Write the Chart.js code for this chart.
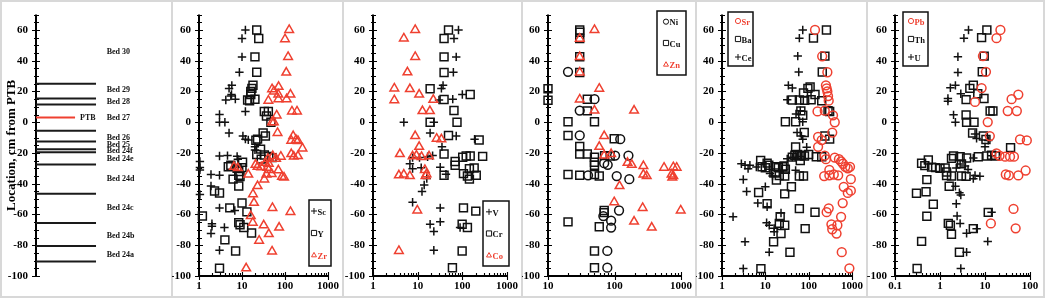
<!DOCTYPE html>
<html>
<head>
<meta charset="utf-8">
<script src="https://cdn.jsdelivr.net/npm/chart.js@4/dist/chart.umd.min.js"></script>
<style>
  body { margin: 0; background: #fff; }
  #wrap { position: relative; width: 1045px; height: 303px; overflow: hidden; }
  .frame { position: absolute; box-sizing: border-box; border: 2px solid #d8d8d8; }
  .sep { position: absolute; top: 0; width: 2px; height: 298px; background: #d8d8d8; }
  canvas { position: absolute; top: 0; }
</style>
</head>
<body>
<div id="wrap">
  <div class="frame" style="left:0;top:0;width:1045px;height:298px"></div>
  <div class="sep" style="left:171px"></div>
  <div class="sep" style="left:342px"></div>
  <div class="sep" style="left:521px"></div>
  <div class="sep" style="left:695px"></div>
  <div class="sep" style="left:866px"></div>
  <canvas id="c1" width="172" height="303" style="left:0"></canvas>
  <canvas id="c2" width="171" height="303" style="left:172px"></canvas>
  <canvas id="c3" width="179" height="303" style="left:343px"></canvas>
  <canvas id="c4" width="174" height="303" style="left:522px"></canvas>
  <canvas id="c5" width="171" height="303" style="left:696px"></canvas>
  <canvas id="c6" width="178" height="303" style="left:867px"></canvas>
</div>
<script>
// ---- stratigraphic column
const bedLines = [25, 15.5, 11.5, -5.5, -12.5, -17.5, -19.5, -27.5, -46.5, -65.5, -80.5, -90.5];
const ptbLine = 3;
const bedNames = ['Bed 30', 'Bed 29', 'Bed 28', 'Bed 27', 'Bed 26', 'Bed 25', 'Bed 24f', 'Bed 24e', 'Bed 24d', 'Bed 24c', 'Bed 24b', 'Bed 24a'];
const bedLabelY = [46, 20.8, 13, 3, -10, -14.5, -18.5, -24, -37, -56, -74, -86.5];

// ---- Sc, Y, Zr
const scX = [12, 10, 10, 8.7, 5.8, 5, 5.7, 4.2, 5.5, 7, 12, 3, 3, 4, 5, 10.5, 12, 14, 20, 20, 3, 4.6, 7.7, 8, 1.05, 1.05, 1.05, 1.9, 3, 1.9, 1.05, 3, 6.8, 2, 2, 3.9, 1.9, 3];
const scY = [60, 54.5, 42.5, 32.5, 24, 22, 18, 14.5, 17, 15, 7, 5, 0, 0, -7, -9, -11, -11.5, -16, -18, -22, -21.7, -22.2, -24, -25.5, -29.5, -31, -34, -34.5, -41.5, -47, -55.7, -57.4, -66, -67.6, -68.5, -72.3, -83.3];
const yX = [22, 24.5, 20, 22, 18, 17, 16, 16, 20, 13.5, 15, 33, 41, 37, 47, 31, 35, 21, 23, 27, 22, 33, 42, 50, 28, 5.5, 4.8, 7.7, 8.4, 6.2, 8.4, 9, 10.3, 10, 8.4, 3, 2.3, 10, 5.2, 13, 1.2, 8.4, 9, 11, 16.7, 4, 7.1, 3];
const yY = [60, 54.5, 42.5, 32.5, 24, 22, 20, 18, 15, 14.5, 14, 7, 7, 4, 0, -7, -9, -11.7, -11, -17.5, -21, -21.3, -22.2, -23, -24, -28, -29, -30, -32, -37, -34.5, -35.3, -26, -29.5, -41.5, -46, -44.7, -52.5, -55.7, -58.3, -61, -65.3, -66.7, -68.5, -72, -76.5, -83.7, -95];
const zrX = [125, 100, 118, 107, 71, 50, 55, 134, 109, 70, 70, 41, 145, 190, 64, 50, 55, 67, 155, 180, 140, 200, 255, 140, 160, 200, 80, 52, 62, 40, 42, 35, 20.6, 23, 8, 6.5, 28, 39, 42, 70, 49, 14, 37, 85, 95, 33, 23, 18, 19, 51, 134, 16, 17.8, 32, 73, 42, 25, 50, 12.5];
const zrY = [60, 54, 42.5, 32.3, 23, 21.5, 20, 18, 15, 18, 15, 14, 7, 7, 4.4, 0, 0, -7, -9, -11.5, -12, -12.2, -17, -20.7, -22.3, -22, -22.4, -22, -23.8, -23.8, -27, -26.4, -27.7, -29, -29.8, -29, -29.2, -29.6, -31, -31.3, -33.6, -34, -34, -35.5, -36, -37.2, -41.5, -46.8, -52.4, -55.7, -58.3, -61, -65.3, -67, -68.5, -72.7, -77, -84, -95];

// ---- V, Cr, Co
const vX = [82, 65, 73, 63, 37, 34, 100, 30, 61, 23, 4.9, 19, 73, 188, 35, 21.6, 16.7, 11, 7.7, 6.7, 7.7, 12, 32, 43, 16, 14, 12.5, 7.7, 32, 19, 32, 23, 89, 23];
const vY = [60, 54.5, 42.5, 32.5, 24, 22, 18, 14.5, 15, 0, 0, -7, -9, -11, -16, -21.7, -22.4, -23, -23, -27, -30.2, -29.6, -29.2, -33.8, -36.6, -40.8, -45, -52, -55.7, -66.3, -64.8, -71, -68.5, -83.3];
const crX = [49, 39, 39, 39, 19, 150, 39, 65, 19, 76, 49, 238, 39, 102, 122, 150, 285, 69, 69, 144, 184, 106, 130, 205, 144, 39, 106, 200, 99, 130, 99, 60];
const crY = [60, 54.5, 42.5, 32.4, 21.8, 18, 14.8, 7.6, 0, 0, -8.6, -11.5, -20.7, -22.8, -22, -22, -22.2, -25.5, -28, -30.2, -29.8, -33.4, -35, -34.5, -37, -34.5, -55.7, -57.8, -66.3, -68.5, -83.7, -94.6];
const coX = [8.8, 4.9, 8.8, 5.9, 3, 6.7, 10.8, 3, 22.4, 12.8, 18.8, 8.8, 26.6, 34, 10.8, 4, 7.7, 9.4, 12.2, 18, 14.5, 15.8, 3.8, 4.9, 6.7, 15, 9.8, 3.8];
const coY = [60, 54.5, 42.5, 32.5, 22, 21.6, 18, 14.3, 14.6, 7.3, 7.3, -9, -10.7, -11.1, -16, -20.7, -22.2, -21.7, -22.6, -22.2, -31, -33.8, -34.5, -34, -35, -35, -57.4, -83.7];

// ---- Ni, Cu, Zn
const niX = [20, 30, 50, 30, 40, 70, 79, 102, 122, 162, 167, 108, 117, 68, 89, 89, 78, 78];
const niY = [32.8, 7.6, 15, -8.6, -34.5, -26.6, -27.7, -21.7, -11, -21.7, -37, -35, -57.4, -61, -64, -68.5, -83.7, -94.6];
const cuX = [30, 30, 30, 30, 30, 10, 10, 39, 39, 20, 50, 20, 99, 30, 30, 39, 50, 50, 50, 71, 86, 20, 30, 50, 59, 70, 70, 20, 59, 50, 50];
const cuY = [60, 58.5, 54.5, 42.6, 32.4, 21.8, 14.3, 15, 7.4, 0.3, 0.3, -8.6, -10.7, -15.8, -20.7, -20.7, -22.8, -26, -28, -21.7, -22, -34, -34.5, -34, -35, -57.4, -58.8, -64.8, -68, -83.7, -94.6];
const znX = [50, 30, 30, 30, 59, 30, 50, 197, 70, 59, 70, 89, 157, 182, 272, 272, 305, 556, 766, 860, 722, 766, 740, 119, 99, 265, 990, 197, 363];
const znY = [60, 54.3, 42.4, 32.4, 21.8, 14.8, 7.6, 7.6, -9, -16, -21.7, -20.7, -26.4, -27.7, -28.5, -34, -35, -29.6, -29.2, -29.6, -34, -35, -36, -41.5, -52, -55.7, -57.4, -64.6, -68.5];

// ---- Sr, Ba, Ce
const srX = [140, 205, 270, 250, 260, 270, 280, 290, 160, 235, 365, 400, 350, 165, 200, 165, 235, 400, 500, 560, 620, 700, 250, 228, 300, 380, 480, 300, 800, 900, 940, 800, 940, 645, 610, 260, 290, 560, 335, 350, 460, 440, 580, 870];
const srY = [60, 42.9, 32.5, 24, 22, 20, 17, 14, 7, 7.5, 4.5, 0, -6.7, -9.5, -11.6, -16, -21.7, -23, -24, -25.5, -27, -29, -24, -35, -34.5, -34, -34.5, -31, -30, -29, -37, -46, -44.5, -42, -52.6, -58.5, -56, -61.5, -66.4, -69.6, -67, -72.4, -84.5, -95];
const baX = [257, 129, 237, 206, 108, 96, 76, 140, 42, 61, 81, 114, 200, 280, 305, 66, 73, 29, 50, 79, 237, 305, 50, 42, 48, 55, 60, 68, 80, 100, 150, 200, 64, 7.8, 11, 12, 8.4, 10, 17, 20, 25, 27, 29, 17, 21, 28, 61, 76, 18, 40, 28, 7, 11, 61, 140, 22, 21, 28, 83, 23, 15.5, 37, 7.9];
const baY = [60, 54.7, 43, 32.7, 23, 22, 19, 18, 14.5, 14.5, 14.2, 14.6, 14, 7.5, 7, 7.4, 4.5, 0.3, 0.3, -6.7, -8.9, -11, -16, -22.7, -21.5, -21, -22, -21.5, -22, -21, -22.5, -22.5, -24.9, -24.9, -26.6, -28, -29, -29.6, -29, -29.5, -29, -28.5, -30.6, -33, -34.7, -35, -35, -35, -37.6, -42, -46.6, -45.7, -53, -56.2, -58.5, -61.5, -65.8, -67, -69.2, -72.4, -77.7, -84.5, -95.2];
const ceX = [73, 61, 56, 59, 34, 42, 32, 64, 51, 73, 54, 68, 73, 90, 32, 42, 2.8, 3.4, 4.4, 6.2, 4, 12.8, 14.7, 50, 3.1, 3.7, 10, 6.7, 11, 23, 1.8, 10.7, 12.3, 16, 16, 3.4, 12.3, 3.1];
const ceY = [60, 54.7, 43, 32.7, 24, 22.3, 14.6, 7.5, 5.4, 0.3, -6.7, -8.9, -11, -16.3, -23.8, -22.7, -27, -28, -28, -29.1, -30.2, -33.4, -35, -31.3, -37.2, -45, -42, -52.6, -55, -59, -61.5, -65.4, -67, -69, -71.3, -77.7, -84.5, -95.2];

// ---- Pb, Th, U
const pbX = [22, 18, 9, 10.5, 8.4, 6, 39, 55, 32, 51, 11.5, 12.8, 60, 85, 18, 21, 28, 36, 44, 29, 34, 55, 80, 43, 13.5, 48];
const pbY = [60, 54.7, 43, 32.8, 22.2, 13.2, 15, 18, 7.3, 7.3, 0.1, -9, -11.2, -11.8, -20.3, -21.8, -22.4, -22.4, -22.4, -34, -34.6, -34.6, -31.4, -56.4, -65.8, -69];
const thX = [11, 8.4, 9.6, 8.7, 5.5, 4.6, 6.9, 3.8, 9.5, 13, 15, 3.8, 3.9, 5.7, 5.3, 9.2, 10.5, 37, 11, 14, 17, 0.55, 0.39, 0.46, 0.65, 0.8, 1.0, 1.3, 1.4, 1.4, 1.8, 1.8, 2, 2.8, 3.9, 7.1, 3, 3.8, 3, 0.51, 1.6, 0.3, 0.49, 0.71, 0.51, 11.8, 1.53, 1.7, 5.5, 1.8, 0.39, 2.7, 0.31];
const thY = [60, 55, 43, 32.8, 24, 22, 18.5, 14.7, 15.4, 7.3, 7.3, 4.7, 0, 0, -7, -9, -11.2, -16.5, -22, -21.5, -22, -24.6, -26.7, -28.2, -29.2, -29.5, -30, -29.7, -32.4, -34.6, -35, -23.5, -22, -22.4, -23.3, -22.4, -27.1, -35.2, -35, -37.3, -41.6, -46.2, -45.2, -53.3, -61.1, -58.6, -65.8, -67, -69.2, -72.8, -77.5, -84.5, -95.1];
const uX = [4.3, 3.4, 2.5, 2.5, 2.2, 1.7, 2.9, 1.5, 1.5, 2, 2.2, 6, 6.5, 11.8, 10, 14, 5.5, 2.8, 2.3, 3.6, 6, 4.2, 7.7, 5.5, 2.2, 2.7, 2.9, 2.3, 2.4, 2.8, 3.9, 6.5, 14, 11.5, 3.9, 2.9];
const uY = [60, 54.7, 42.6, 32.4, 24, 22.4, 18.5, 15.4, 13.7, 4.8, 0, -7.6, -10.5, -11.8, -16, -21.8, -23.3, -27.1, -29.7, -28.4, -34.6, -30.7, -35.2, -36.7, -41.6, -45.8, -47.3, -53, -61, -65.8, -72.2, -69.2, -58.6, -77.5, -84.5, -95.1];

const RED = '#ef4030';
const BLK = '#111';
const FONT = "'Liberation Serif', 'Times New Roman', serif";

Chart.defaults.font.family = FONT;
Chart.defaults.font.weight = 'bold';
Chart.defaults.color = '#000';

const radius = { cross: 4.2, rect: 5.6, triangle: 5, circle: 4.4 };

function series(label, xs, ys, style, color) {
  return {
    label: label,
    data: xs.map((x, i) => ({ x: x, y: ys[i] })),
    pointStyle: style,
    pointRadius: radius[style],
    pointBorderColor: color,
    pointBackgroundColor: 'rgba(0,0,0,0)',
    pointBorderWidth: 1.5,
    showLine: false
  };
}

function symbol(ctx, style, x, y, r) {
  ctx.beginPath();
  if (style === 'cross') {
    ctx.moveTo(x - r, y); ctx.lineTo(x + r, y);
    ctx.moveTo(x, y - r); ctx.lineTo(x, y + r);
  } else if (style === 'rect') {
    ctx.rect(x - r, y - r, 2 * r, 2 * r);
  } else if (style === 'triangle') {
    ctx.moveTo(x, y - r); ctx.lineTo(x + r * 0.95, y + r * 0.7); ctx.lineTo(x - r * 0.95, y + r * 0.7); ctx.closePath();
  } else {
    ctx.arc(x, y, r, 0, Math.PI * 2);
  }
  ctx.stroke();
}

// axis lines and tick marks, drawn through the chart's own scales
const axesPlugin = {
  id: 'axes',
  beforeDatasetsDraw(chart) {
    const { ctx, chartArea: a, scales } = chart;
    const ys = scales.y;
    ctx.save();
    ctx.strokeStyle = '#000';
    ctx.lineWidth = 2;
    ctx.beginPath();
    ctx.moveTo(a.left, a.top); ctx.lineTo(a.left, a.bottom);
    if (scales.x.options.display) { ctx.moveTo(a.left - 1, a.bottom); ctx.lineTo(a.right, a.bottom); }
    ctx.stroke();
    ctx.lineWidth = 1.1;
    ctx.beginPath();
    for (let v = ys.min; v <= ys.max; v += 5) {
      const p = Math.round(ys.getPixelForValue(v)) + 0.5;
      const major = v % 20 === 0;
      ctx.moveTo(a.left - (major ? 4 : 2), p);
      ctx.lineTo(a.left + (major ? 4 : 3), p);
    }
    const xs = scales.x;
    if (xs.options.display && xs.type === 'logarithmic') {
      const e0 = Math.round(Math.log10(xs.min)), e1 = Math.round(Math.log10(xs.max));
      for (let e = e0; e <= e1; e++) {
        for (let k = 1; k <= 9; k++) {
          const v = k * Math.pow(10, e);
          if (v > xs.max * 1.0001) break;
          const p = Math.round(xs.getPixelForValue(v)) + 0.5;
          ctx.moveTo(p, a.bottom + (k === 1 ? 4 : 0));
          ctx.lineTo(p, a.bottom - (k === 1 ? 4 : 3));
        }
      }
    }
    ctx.stroke();
    ctx.restore();
  }
};

// boxed legend inside the plot
const boxLegend = {
  id: 'boxLegend',
  afterDatasetsDraw(chart, args, o) {
    if (!o || !o.w) return;
    const ctx = chart.ctx;
    ctx.save();
    ctx.strokeStyle = '#111';
    ctx.lineWidth = 1.5;
    ctx.strokeRect(o.x, o.y, o.w, o.h);
    ctx.font = 'bold 8.5px ' + FONT;
    ctx.textBaseline = 'middle';
    const sets = chart.data.datasets;
    o.order.forEach((di, i) => {
      const ds = sets[di];
      const cy = o.y + o.h / 6 + i * o.h / 3;
      ctx.strokeStyle = ds.pointBorderColor;
      ctx.lineWidth = 1;
      const r = ds.pointStyle === 'cross' ? 3 : 2.6;
      symbol(ctx, ds.pointStyle, o.x + o.sx, cy, r);
      ctx.fillStyle = ds.pointBorderColor === RED ? RED : '#111';
      ctx.fillText(ds.label, o.x + o.sx + 3.5, cy + 1.5);
    });
    ctx.restore();
  }
};

const bedLabels = {
  id: 'bedLabels',
  afterDatasetsDraw(chart) {
    const { ctx, scales: { x, y } } = chart;
    ctx.save();
    ctx.font = 'bold 8px ' + FONT;
    ctx.fillStyle = '#111';
    ctx.textBaseline = 'middle';
    bedNames.forEach((n, i) => ctx.fillText(n, x.getPixelForValue(57), y.getPixelForValue(bedLabelY[i])));
    ctx.fillText('PTB', x.getPixelForValue(35.5), y.getPixelForValue(ptbLine));
    ctx.restore();
  }
};

function yAxis(width, title) {
  return {
    min: -100, max: 70,
    grid: { display: false, drawTicks: false },
    border: { display: false },
    ticks: {
      stepSize: 20, padding: 8,
      font: { size: 11, weight: 'bold' },
      callback: v => (v % 20 === 0 ? v : '')
    },
    title: title ? { display: true, text: title, font: { size: 13, weight: 'bold' }, padding: { top: 4, bottom: 0 } } : { display: false },
    afterFit: s => { s.width = width; }
  };
}

function logAxis(min, max) {
  return {
    type: 'logarithmic', min: min, max: max,
    grid: { display: false, drawTicks: false },
    border: { display: false },
    ticks: {
      autoSkip: false, maxRotation: 0, padding: 4,
      font: { size: 11, weight: 'bold' },
      callback: v => {
        const l = Math.log10(v);
        if (Math.abs(l - Math.round(l)) > 1e-6) return '';
        return v < 1 ? String(v) : String(Math.round(v));
      }
    },
    afterFit: s => { s.height = 27; }
  };
}

const common = {
  responsive: false,
  animation: false,
  events: [],
  clip: false
};

// column of beds
new Chart(document.getElementById('c1'), {
  type: 'scatter',
  data: {
    datasets: bedLines.map(v => ({
      data: [{ x: 0, y: v }, { x: 48.4, y: v }],
      showLine: true, borderColor: '#1a1a1a', borderWidth: 2, pointRadius: 0
    })).concat([{
      data: [{ x: 0, y: ptbLine }, { x: 31.5, y: ptbLine }],
      showLine: true, borderColor: RED, borderWidth: 2, pointRadius: 0
    }])
  },
  options: Object.assign({}, common, {
    layout: { padding: { top: 9, right: 12, bottom: 27, left: 0 } },
    plugins: { legend: { display: false }, tooltip: { enabled: false } },
    scales: {
      x: { type: 'linear', min: 0, max: 100, display: false },
      y: yAxis(36, 'Location, cm from PTB')
    }
  }),
  plugins: [axesPlugin, bedLabels]
});

function panel(id, datasets, xmin, xmax, yw, padR, leg) {
  new Chart(document.getElementById(id), {
    type: 'scatter',
    data: { datasets: datasets },
    options: Object.assign({}, common, {
      layout: { padding: { top: 9, right: padR, bottom: 0, left: 0 } },
      plugins: { legend: { display: false }, tooltip: { enabled: false }, boxLegend: leg },
      scales: { x: logAxis(xmin, xmax), y: yAxis(yw) }
    }),
    plugins: [axesPlugin, boxLegend]
  });
}

panel('c2', [
  series('Zr', zrX, zrY, 'triangle', RED),
  series('Y', yX, yY, 'rect', BLK),
  series('Sc', scX, scY, 'cross', BLK)
], 1, 1000, 27, 11, { x: 137, y: 200, w: 22, h: 66, sx: 5, order: [2, 1, 0] });

panel('c3', [
  series('Co', coX, coY, 'triangle', RED),
  series('Cr', crX, crY, 'rect', BLK),
  series('V', vX, vY, 'cross', BLK)
], 1, 1000, 30, 15, { x: 140, y: 201, w: 26, h: 65, sx: 6, order: [2, 1, 0] });

panel('c4', [
  series('Zn', znX, znY, 'triangle', RED),
  series('Cu', cuX, cuY, 'rect', BLK),
  series('Ni', niX, niY, 'circle', BLK)
], 10, 1000, 26, 15, { x: 135, y: 11, w: 29, h: 64, sx: 9, order: [2, 1, 0] });

panel('c5', [
  series('Sr', srX, srY, 'circle', RED),
  series('Ba', baX, baY, 'rect', BLK),
  series('Ce', ceX, ceY, 'cross', BLK)
], 1, 1000, 26, 13, { x: 32, y: 12, w: 25, h: 54, sx: 10, order: [0, 1, 2] });

panel('c6', [
  series('Pb', pbX, pbY, 'circle', RED),
  series('Th', thX, thY, 'rect', BLK),
  series('U', uX, uY, 'cross', BLK)
], 0.1, 100, 28, 15, { x: 36, y: 12, w: 25, h: 54, sx: 8, order: [0, 1, 2] });
</script>
</body>
</html>
